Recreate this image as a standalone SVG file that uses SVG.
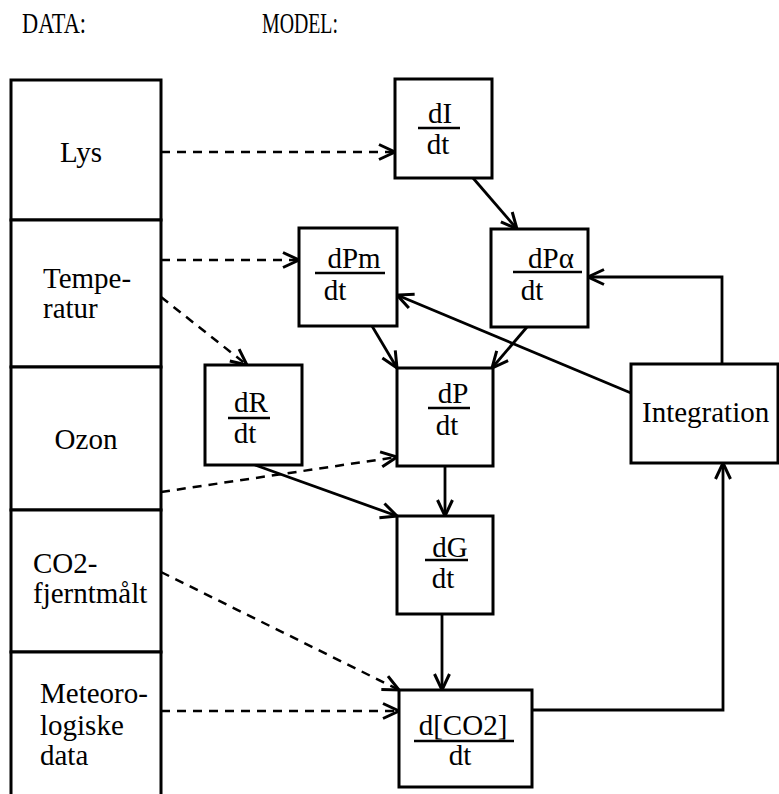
<svg xmlns="http://www.w3.org/2000/svg" width="779" height="794" viewBox="0 0 779 794">
<style>
text{font-family:"Liberation Serif","Times New Roman",serif;font-size:29px;fill:#000}
.box{fill:#fff;stroke:#000;stroke-width:3}
.bar{stroke:#000;stroke-width:2.5}
.solid{fill:none;stroke:#000;stroke-width:2.8}
.dash{fill:none;stroke:#000;stroke-width:2.5;stroke-dasharray:9 7}
.mid{text-anchor:middle}
</style>
<defs>
<marker id="arr" markerUnits="userSpaceOnUse" viewBox="-20 -12 24 24" refX="0" refY="0" markerWidth="24" markerHeight="24" orient="auto">
<path d="M-16,-7.5 L0,0 L-16,7.5" fill="none" stroke="#000" stroke-width="3"/>
</marker>
</defs>
<g id="titles">
<text x="22" y="33" textLength="64" lengthAdjust="spacingAndGlyphs" font-size="26">DATA:</text>
<text x="262" y="33" textLength="76" lengthAdjust="spacingAndGlyphs" font-size="26">MODEL:</text>
</g>
<g id="data-lys"><rect class="box" x="11" y="80" width="150" height="140"/><text class="mid" x="81" y="162">Lys</text></g>
<g id="data-temperatur"><rect class="box" x="11" y="220" width="150" height="147"/><text x="43" y="288">Tempe-</text><text x="43" y="318">ratur</text></g>
<g id="data-ozon"><rect class="box" x="11" y="367" width="150" height="143"/><text class="mid" x="86" y="449">Ozon</text></g>
<g id="data-co2"><rect class="box" x="11" y="510" width="150" height="142"/><text x="33" y="573">CO2-</text><text x="33" y="603">fjerntmålt</text></g>
<g id="data-meteo"><rect class="box" x="11" y="652" width="150" height="160"/><text x="40" y="703">Meteoro-</text><text x="40" y="735">logiske</text><text x="40" y="765">data</text></g>

<g id="connectors">
<path class="dash" d="M161,152 L395,152" marker-end="url(#arr)"/>
<path class="dash" d="M161,260 L299,260" marker-end="url(#arr)"/>
<path class="dash" d="M161,297 L247,365" marker-end="url(#arr)"/>
<path class="dash" d="M161,492 L397,457" marker-end="url(#arr)"/>
<path class="dash" d="M161,572 L399,690" marker-end="url(#arr)"/>
<path class="dash" d="M161,711 L399,711" marker-end="url(#arr)"/>
<path class="solid" d="M473,178 L517,229" marker-end="url(#arr)"/>
<path class="solid" d="M372,326 L397,368" marker-end="url(#arr)"/>
<path class="solid" d="M527,327 L492,368" marker-end="url(#arr)"/>
<path class="solid" d="M631,393 L397,295" marker-end="url(#arr)"/>
<path class="solid" d="M722,364 L722,277 L588,277" marker-end="url(#arr)"/>
<path class="solid" d="M255,465 L397,516" marker-end="url(#arr)"/>
<path class="solid" d="M445,466 L445,516" marker-end="url(#arr)"/>
<path class="solid" d="M442,614 L442,690" marker-end="url(#arr)"/>
<path class="solid" d="M532,710 L723,710 L723,463" marker-end="url(#arr)"/>
</g>

<g id="node-dI"><rect class="box" x="395" y="79" width="97" height="99"/><text class="mid" x="440" y="123">dI</text><line class="bar" x1="418" y1="128" x2="460" y2="128"/><text class="mid" x="438" y="154">dt</text></g>
<g id="node-dPm"><rect class="box" x="299" y="228" width="98" height="98"/><text class="mid" x="354" y="268">dPm</text><line class="bar" x1="315" y1="273" x2="385" y2="273"/><text class="mid" x="335" y="300">dt</text></g>
<g id="node-dPa"><rect class="box" x="491" y="229" width="97" height="98"/><text class="mid" x="551" y="268">dPα</text><line class="bar" x1="513" y1="272" x2="582" y2="272"/><text class="mid" x="532" y="300">dt</text></g>
<g id="node-integration"><rect class="box" x="631" y="364" width="147" height="99"/><text x="642" y="422">Integration</text></g>
<g id="node-dR"><rect class="box" x="205" y="365" width="97" height="100"/><text class="mid" x="251" y="412">dR</text><line class="bar" x1="228" y1="418" x2="270" y2="418"/><text class="mid" x="245" y="443">dt</text></g>
<g id="node-dP"><rect class="box" x="397" y="368" width="96" height="98"/><text class="mid" x="453" y="403">dP</text><line class="bar" x1="428" y1="408" x2="470" y2="408"/><text class="mid" x="447" y="435">dt</text></g>
<g id="node-dG"><rect class="box" x="397" y="516" width="96" height="98"/><text class="mid" x="450" y="557">dG</text><line class="bar" x1="425" y1="560" x2="468" y2="560"/><text class="mid" x="443" y="588">dt</text></g>
<g id="node-dCO2"><rect class="box" x="399" y="690" width="133" height="97"/><text class="mid" x="463" y="735">d[CO2]</text><line class="bar" x1="414" y1="741" x2="514" y2="741"/><text class="mid" x="460" y="765">dt</text></g>
</svg>
